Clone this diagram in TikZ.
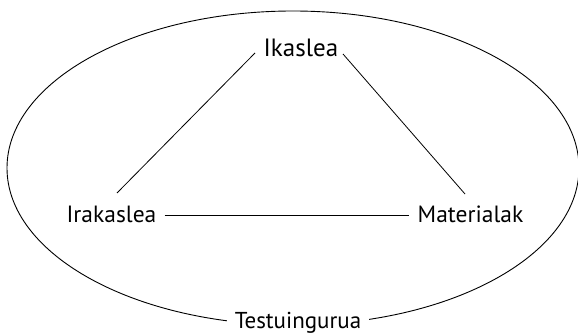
\documentclass[tikz,border=0pt]{standalone}
\usepackage{fontspec}
\setmainfont{PT Sans}
\begin{document}
\begin{tikzpicture}[x=1pt,y=-1pt,
  lbl/.style={anchor=base,inner sep=0pt,font=\fontsize{25}{29}\selectfont},
  lbls/.style={lbl,font=\fontsize{23.5}{27}\selectfont},
  conn/.style={line width=0.8pt}]
\useasboundingbox (0,0) rectangle (578,334);
\begin{scope}
\clip (0,0) rectangle (578,334);
\draw[line width=0.9pt] (293,168) ellipse [x radius=286, y radius=157];
\end{scope}
\fill[white] (227,306) rectangle (369,334);
\node[lbl] (ik) at (301,57) {Ikaslea};
\node[lbls] (ir) at (111.5,222) {Irakaslea};
\node[lbls] (ma) at (470.5,222) {Materialak};
\node[lbl,font=\fontsize{23}{27}\selectfont] (te) at (298,328) {Testuingurua};
\coordinate (a1) at (255,53);
\coordinate (a2) at (117,193);
\coordinate (b1) at (343,54);
\coordinate (b2) at (465,194);
\draw[conn] (a1) -- (a2);
\draw[conn] (b1) -- (b2);
\draw[conn] ([xshift=8pt,yshift=7pt]ir.base east) -- ([xshift=-9pt,yshift=7pt]ma.base west);
\end{tikzpicture}
\end{document}
